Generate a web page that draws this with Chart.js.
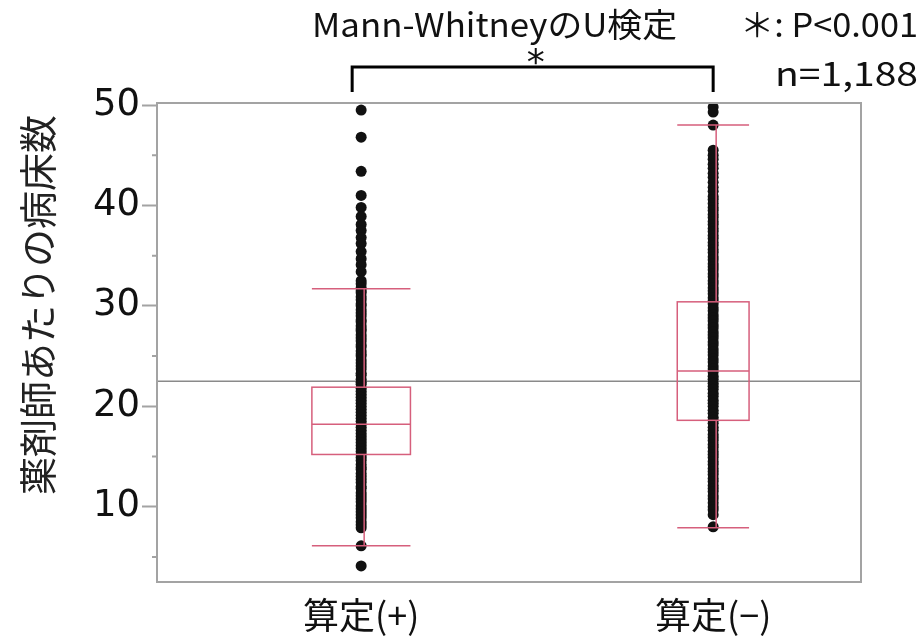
<!DOCTYPE html>
<html>
<head>
<meta charset="utf-8">
<script src="https://cdn.jsdelivr.net/npm/chart.js@4.4.1/dist/chart.umd.min.js"></script>
<style>
  body { margin: 0; background: #fff; }
  canvas { display: block; }
</style>
</head>
<body>
<canvas id="boxChart" width="924" height="640"></canvas>
<script>
// categories and tick labels
var categories = ["算定(+)", "算定(−)"];
var yTickValues = [5, 10, 15, 20, 25, 30, 35, 40, 45, 50];
var yTitle = "薬剤師あたりの病床数";

// box plot summary
var q1 = [15.2, 18.6];
var median = [18.2, 23.5];
var q3 = [21.9, 30.4];
var whiskerLow = [6.1, 7.9];
var whiskerHigh = [31.7, 48.0];
var grandMean = 22.5;

// individual points per group
var pointsPlus = [49.5, 46.8, 43.4, 41.0, 39.8, 38.9, 38.1, 37.5, 36.8, 36.2, 35.4, 34.7, 34.1, 33.4, 32.5,
  32.2, 31.8, 31.5, 31.3, 30.9, 30.6, 30.2, 30.0, 29.6, 29.3, 29.0, 28.6, 28.4, 28.0, 27.7, 27.5, 27.1,
  26.8, 26.5, 26.1, 25.9, 25.5, 25.2, 25.0, 24.6, 24.3, 24.0, 23.7, 23.3, 23.1, 22.7, 22.4, 22.2, 21.8,
  21.5, 21.2, 20.9, 20.6, 20.3, 20.0, 19.7, 19.4, 19.1, 18.8, 18.5, 18.2, 17.9, 17.6, 17.3, 17.0, 16.7,
  16.4, 16.1, 15.8, 15.5, 15.2, 14.9, 14.6, 14.2, 13.9, 13.7, 13.3, 13.0, 12.7, 12.4, 12.0, 11.8, 11.4,
  11.1, 10.8, 10.5, 10.1, 9.8, 9.5, 9.2, 8.9, 8.5, 8.2, 7.9, 6.1, 4.1];
var pointsMinus = [49.8, 49.3, 48.0,
  45.5, 45.0, 44.6, 44.1, 43.7, 43.2, 42.8, 42.3, 41.8, 41.4, 40.9, 40.6, 40.2, 39.8, 39.5, 39.1, 38.8,
  38.4, 38.1, 37.7, 37.4, 37.0, 36.7, 36.3, 36.0, 35.6, 35.3, 34.9, 34.6, 34.2, 33.9, 33.6, 33.2, 32.9,
  32.5, 32.2, 31.8, 31.5, 31.2, 30.8, 30.5, 30.2, 29.8, 29.5, 29.1, 28.8, 28.5, 28.1, 27.8, 27.4, 27.1,
  26.8, 26.4, 26.1, 25.7, 25.4, 25.1, 24.7, 24.4, 24.0, 23.7, 23.4, 23.0, 22.7, 22.3, 22.0, 21.7, 21.3,
  21.0, 20.6, 20.3, 20.0, 19.6, 19.3, 18.9, 18.6, 18.3, 17.9, 17.6, 17.2, 16.9, 16.6, 16.2, 15.9, 15.5,
  15.2, 14.9, 14.5, 14.2, 13.8, 13.5, 13.2, 12.8, 12.5, 12.1, 11.8, 11.5, 11.1, 10.8, 10.4, 10.0, 9.7,
  9.2, 8.0];

var boxColor = "#d65f7c";
var boxHalfWidth = [0.14, 0.102];   // in x units

function toXY(values, idx) {
    return values.map(function (v) { return { x: idx + 1, y: v }; });
}

function stretchText(ctx, text, left, right, cy, font) {
    ctx.font = font;
    var w = ctx.measureText(text).width;
    ctx.save();
    ctx.translate(left, cy);
    ctx.scale((right - left) / w, 1);
    ctx.textAlign = "left";
    ctx.textBaseline = "middle";
    ctx.fillText(text, 0, 0);
    ctx.restore();
}

var boxPlugin = {
    id: "boxPlugin",
    beforeDatasetsDraw: function (chart) {
        var ctx = chart.ctx, area = chart.chartArea, y = chart.scales.y;
        var ym = y.getPixelForValue(grandMean);
        ctx.save();
        ctx.strokeStyle = "#8a8a8a";
        ctx.lineWidth = 1.5;
        ctx.beginPath();
        ctx.moveTo(area.left, ym);
        ctx.lineTo(area.right, ym);
        ctx.stroke();
        ctx.restore();
    },
    afterDatasetsDraw: function (chart) {
        var ctx = chart.ctx, area = chart.chartArea;
        var x = chart.scales.x, y = chart.scales.y;
        ctx.save();
        ctx.strokeStyle = boxColor;
        ctx.lineWidth = 1.5;
        for (var i = 0; i < categories.length; i++) {
            var cx = x.getPixelForValue(i + 1);
            var l = x.getPixelForValue(i + 1 - boxHalfWidth[i]);
            var r = x.getPixelForValue(i + 1 + boxHalfWidth[i]);
            var yq1 = y.getPixelForValue(q1[i]), yq3 = y.getPixelForValue(q3[i]);
            var ymed = y.getPixelForValue(median[i]);
            var ylo = y.getPixelForValue(whiskerLow[i]), yhi = y.getPixelForValue(whiskerHigh[i]);
            ctx.strokeRect(l, yq3, r - l, yq1 - yq3);
            ctx.beginPath();
            ctx.moveTo(l, ymed); ctx.lineTo(r, ymed);
            ctx.moveTo(l, ylo); ctx.lineTo(r, ylo);
            ctx.moveTo(l, yhi); ctx.lineTo(r, yhi);
            ctx.moveTo(cx + 3, yq3); ctx.lineTo(cx + 3, yhi);
            ctx.moveTo(cx + 3, yq1); ctx.lineTo(cx + 3, ylo);
            ctx.stroke();
        }
        // frame
        ctx.strokeStyle = "#a3a3a3";
        ctx.lineWidth = 2;
        ctx.strokeRect(area.left, area.top, area.right - area.left, area.bottom - area.top);
        // minor ticks
        ctx.beginPath();
        yTickValues.forEach(function (v) {
            if (v % 10 !== 0) {
                var py = y.getPixelForValue(v);
                ctx.moveTo(area.left - 5, py);
                ctx.lineTo(area.left, py);
            }
        });
        ctx.stroke();
        ctx.restore();
    },
    afterDraw: function (chart) {
        var ctx = chart.ctx, x = chart.scales.x;
        var bl = x.getPixelForValue(1) - 9, br = x.getPixelForValue(2);
        ctx.save();
        ctx.fillStyle = "#111";
        var f = "33px 'Noto Sans CJK JP'";
        stretchText(ctx, "Mann-WhitneyのU検定", 312, 677, 24, f);
        stretchText(ctx, "＊: P<0.001", 740, 918, 24, f);
        stretchText(ctx, "n=1,188", 775, 918, 73, f);
        ctx.font = "36px 'DejaVu Sans'";
        ctx.textAlign = "center";
        ctx.textBaseline = "alphabetic";
        ctx.fillText("*", (bl + br) / 2 + 3, 74);
        ctx.strokeStyle = "#000";
        ctx.lineWidth = 3;
        ctx.beginPath();
        ctx.moveTo(bl, 92);
        ctx.lineTo(bl, 67);
        ctx.lineTo(br, 67);
        ctx.lineTo(br, 92);
        ctx.stroke();
        // y axis title
        ctx.save();
        ctx.translate(38, 305);
        ctx.rotate(-Math.PI / 2);
        ctx.font = "38px 'Noto Sans CJK JP'";
        ctx.fillStyle = "#222";
        ctx.textAlign = "center";
        ctx.textBaseline = "middle";
        ctx.fillText(yTitle, 0, 0);
        ctx.restore();
        ctx.restore();
    }
};

var chart = new Chart(document.getElementById("boxChart"), {
    type: "scatter",
    data: {
        datasets: [
            { label: categories[0], data: toXY(pointsPlus, 0) },
            { label: categories[1], data: toXY(pointsMinus, 1) }
        ]
    },
    options: {
        responsive: false,
        animation: false,
        layout: { padding: { top: 103, right: 63, bottom: 0, left: 0 } },
        elements: {
            point: { radius: 5.5, backgroundColor: "#111", borderColor: "#111", borderWidth: 0 }
        },
        plugins: {
            legend: { display: false },
            tooltip: { enabled: false }
        },
        scales: {
            x: {
                type: "linear",
                min: 0.42,
                max: 2.42,
                afterBuildTicks: function (scale) {
                    scale.ticks = categories.map(function (c, i) { return { value: i + 1 }; });
                },
                afterFit: function (scale) { scale.height = 58; },
                grid: { display: false },
                border: { display: false },
                ticks: {
                    padding: 4,
                    color: "#111",
                    font: { family: "'Noto Sans CJK JP'", size: 36 },
                    callback: function (v) { return categories[v - 1]; }
                }
            },
            y: {
                min: 2.5,
                max: 50.2,
                afterBuildTicks: function (scale) {
                    scale.ticks = yTickValues.map(function (v) { return { value: v }; });
                },
                afterFit: function (scale) { scale.width = 157; },
                border: { display: false },
                grid: {
                    drawOnChartArea: false,
                    tickLength: 15,
                    tickWidth: 2,
                    tickColor: function (c) { return c.tick && c.tick.value % 10 === 0 ? "#a3a3a3" : "rgba(0,0,0,0)"; }
                },
                ticks: {
                    padding: 2,
                    color: "#111",
                    font: { family: "'DejaVu Sans'", size: 37 },
                    callback: function (v) { return v % 10 === 0 ? v : ""; }
                }
            }
        }
    },
    plugins: [boxPlugin]
});
</script>
</body>
</html>
